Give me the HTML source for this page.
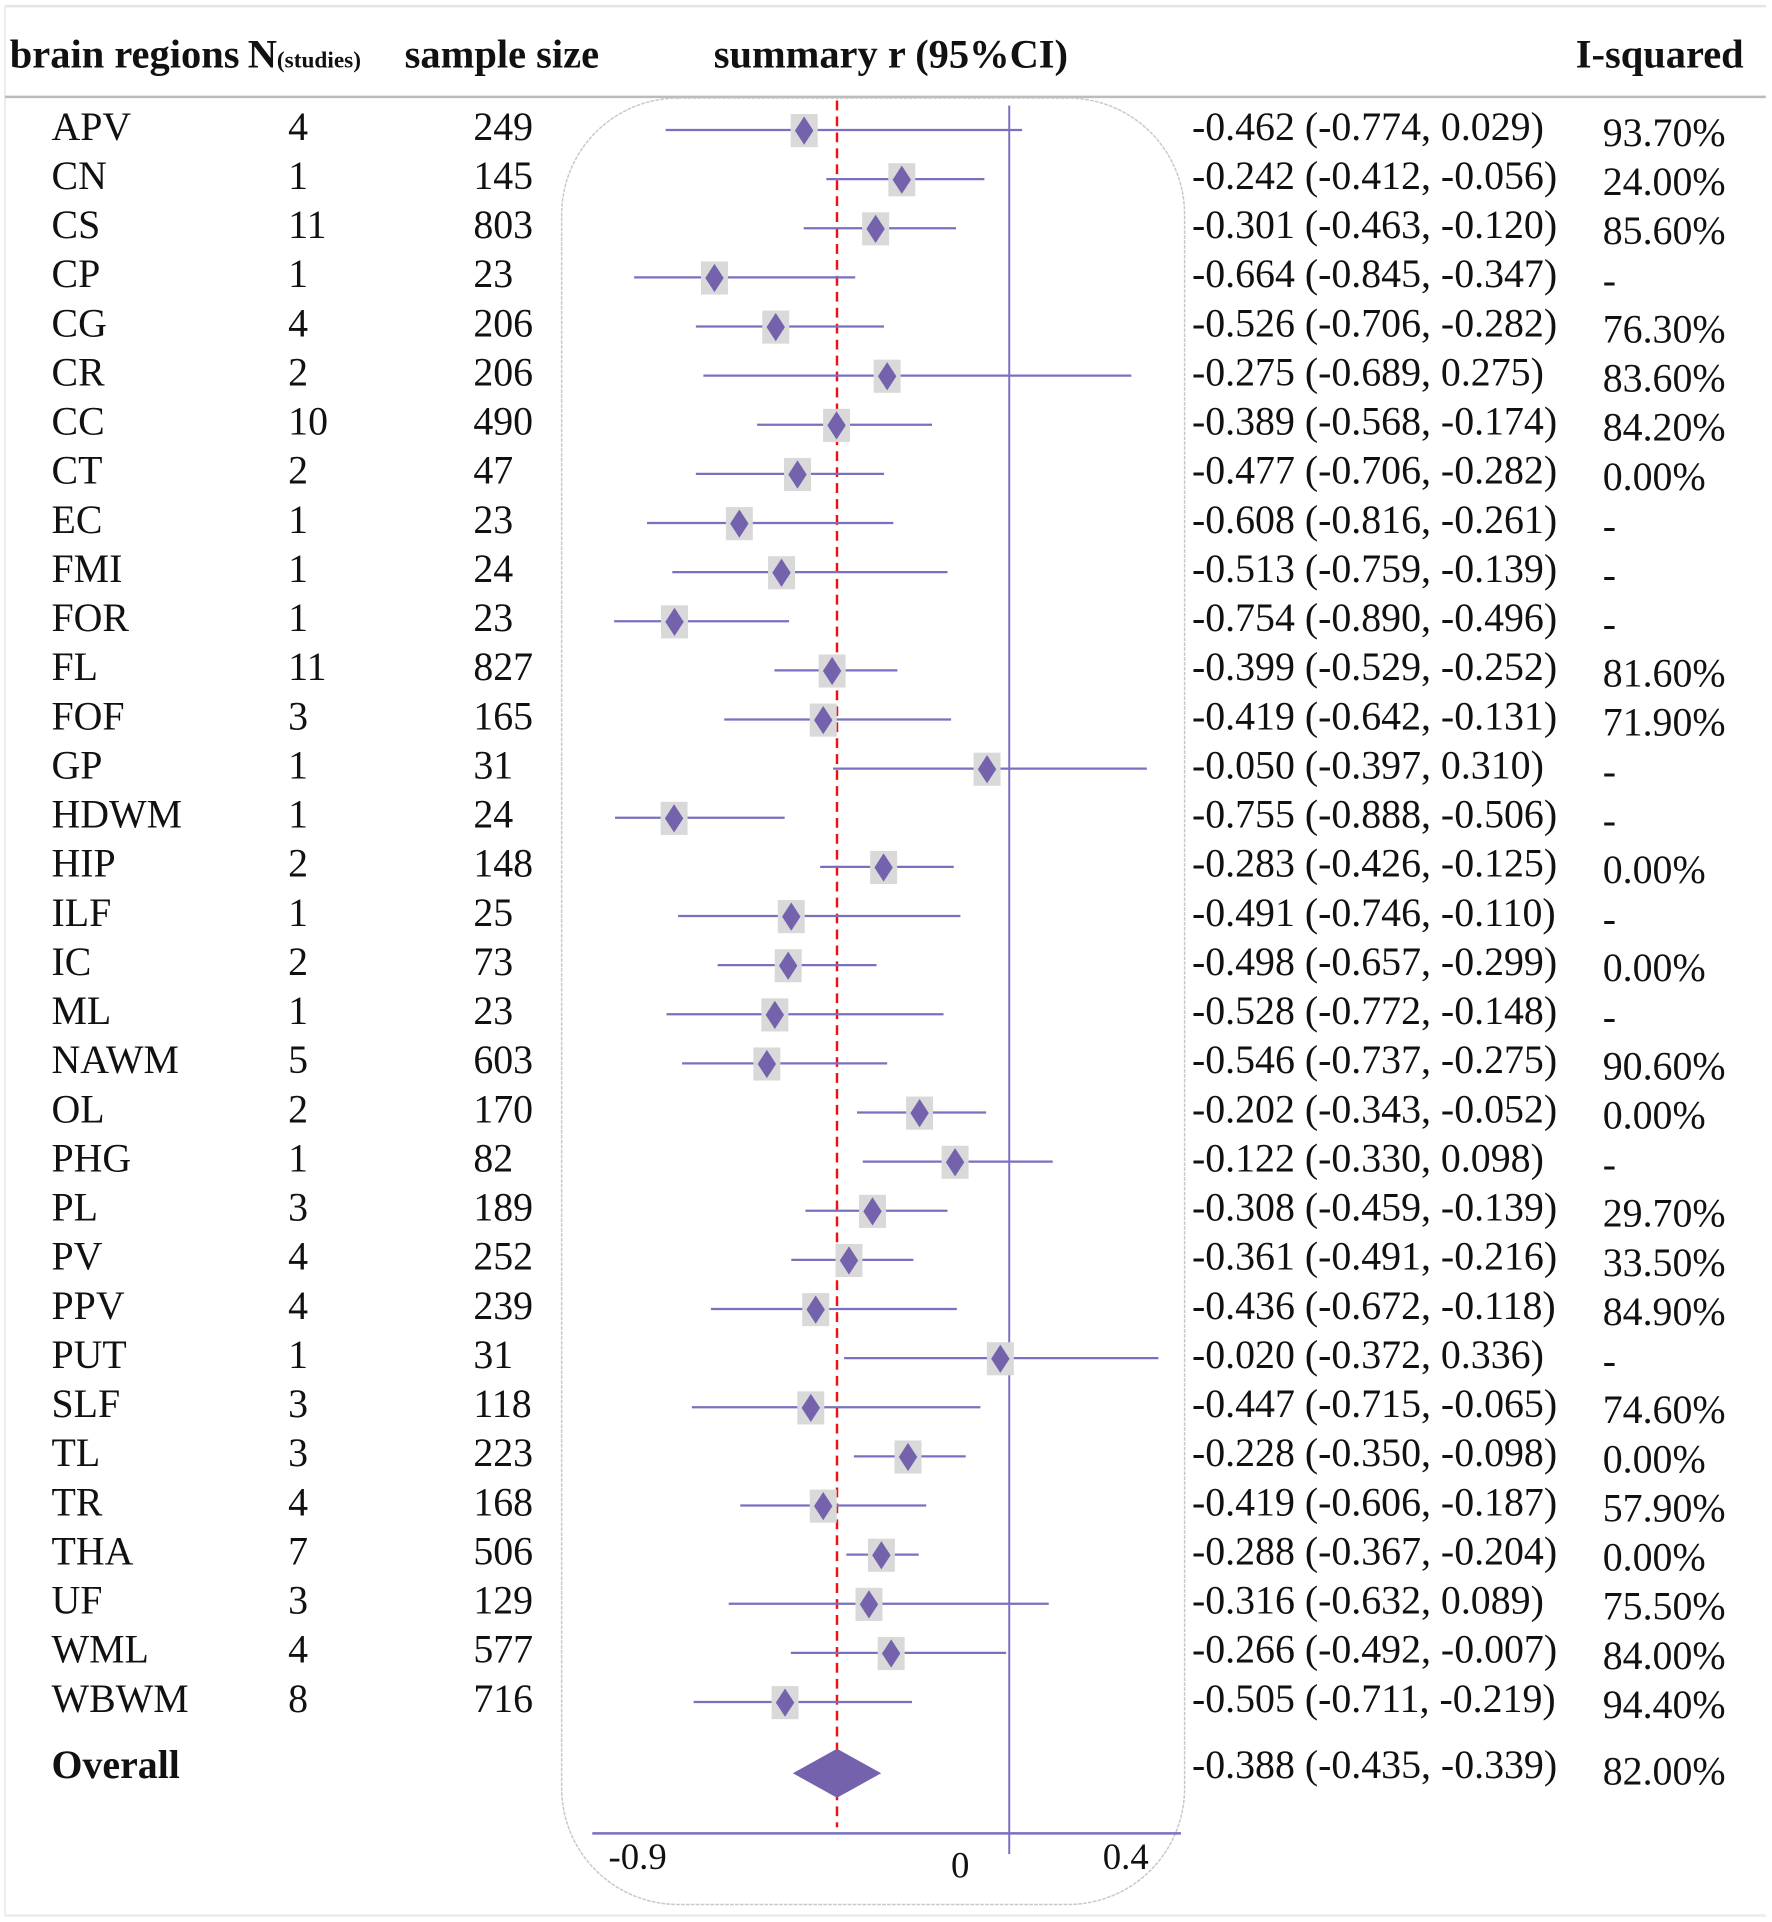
<!DOCTYPE html>
<html><head><meta charset="utf-8"><style>
html,body{margin:0;padding:0;background:#fff;}
svg{display:block;}
text{font-family:"Liberation Serif",serif;fill:#111;}
</style></head><body>
<svg id="chart" width="1772" height="1922" viewBox="0 0 1445 1567.3" preserveAspectRatio="none" xmlns="http://www.w3.org/2000/svg">
<rect x="0" y="0" width="1445" height="1567.3" fill="#fff"/>
<line x1="4" y1="5" x2="1440" y2="5" stroke="#e4e4e4" stroke-width="2"/>
<line x1="4" y1="1562" x2="1440" y2="1562" stroke="#ececec" stroke-width="2"/>
<line x1="4" y1="5" x2="4" y2="1562" stroke="#ececec" stroke-width="1.5"/>
<line x1="4" y1="79" x2="1440" y2="79" stroke="#bbb" stroke-width="2"/>
<g font-weight="bold" font-size="33">
<text x="8" y="55">brain regions</text>
<text x="202" y="55">N<tspan font-size="19">(studies)</tspan></text>
<text x="330" y="55">sample size</text>
<text x="582" y="55">summary r (95%CI)</text>
<text x="1285" y="55">I-squared</text>
</g>
<rect x="458" y="80" width="508" height="1473" rx="95" ry="95" fill="none" stroke="#c8c8c8" stroke-width="1.2" stroke-dasharray="3 1"/>
<g id="rows"></g>
<g id="plot"></g>
</svg>
<script>
const regions=["APV","CN","CS","CP","CG","CR","CC","CT","EC","FMI","FOR","FL","FOF","GP","HDWM","HIP","ILF","IC","ML","NAWM","OL","PHG","PL","PV","PPV","PUT","SLF","TL","TR","THA","UF","WML","WBWM"];
const nStudies=[4,1,11,1,4,2,10,2,1,1,1,11,3,1,1,2,1,2,1,5,2,1,3,4,4,1,3,3,4,7,3,4,8];
const sampleSizes=[249,145,803,23,206,206,490,47,23,24,23,827,165,31,24,148,25,73,23,603,170,82,189,252,239,31,118,223,168,506,129,577,716];
const rValues=[-0.462,-0.242,-0.301,-0.664,-0.526,-0.275,-0.389,-0.477,-0.608,-0.513,-0.754,-0.399,-0.419,-0.050,-0.755,-0.283,-0.491,-0.498,-0.528,-0.546,-0.202,-0.122,-0.308,-0.361,-0.436,-0.020,-0.447,-0.228,-0.419,-0.288,-0.316,-0.266,-0.505];
const ciLower=[-0.774,-0.412,-0.463,-0.845,-0.706,-0.689,-0.568,-0.706,-0.816,-0.759,-0.890,-0.529,-0.642,-0.397,-0.888,-0.426,-0.746,-0.657,-0.772,-0.737,-0.343,-0.330,-0.459,-0.491,-0.672,-0.372,-0.715,-0.350,-0.606,-0.367,-0.632,-0.492,-0.711];
const ciUpper=[0.029,-0.056,-0.120,-0.347,-0.282,0.275,-0.174,-0.282,-0.261,-0.139,-0.496,-0.252,-0.131,0.310,-0.506,-0.125,-0.110,-0.299,-0.148,-0.275,-0.052,0.098,-0.139,-0.216,-0.118,0.336,-0.065,-0.098,-0.187,-0.204,0.089,-0.007,-0.219];
const iSquared=["93.70%","24.00%","85.60%","-","76.30%","83.60%","84.20%","0.00%","-","-","-","81.60%","71.90%","-","-","0.00%","-","0.00%","-","90.60%","0.00%","-","29.70%","33.50%","84.90%","-","74.60%","0.00%","57.90%","0.00%","75.50%","84.00%","94.40%"];
const overall=[-0.388,-0.435,-0.339];
const overallI2="82.00%";
const tickLabels=["-0.9","0","0.4"];

const NS="http://www.w3.org/2000/svg";
const xS=v=>823+362*v;
const yRow=i=>104+40.06*i;
function mk(tag,attrs,parent){const e=document.createElementNS(NS,tag);for(const k in attrs)e.setAttribute(k,attrs[k]);parent.appendChild(e);return e;}
const rowsG=document.getElementById('rows'),plotG=document.getElementById('plot');
const f=v=>v.toFixed(3);
const FS=32.5;

let zl=mk('line',{x1:xS(0),y1:86,x2:xS(0),y2:1512,stroke:'#7a70c0','stroke-width':1.6},plotG);


let ax=mk('line',{x1:483,y1:1495,x2:963,y2:1495,stroke:'#7a70c0','stroke-width':2},plotG);


const tickX=[520,783,918];
tickLabels.forEach((t,i)=>{
  const tx=mk('text',{x:tickX[i],y:i==1?1531:1524,'font-size':30,'text-anchor':'middle'},plotG);tx.textContent=t;
  
  
});
let rl=mk('line',{x1:xS(overall[0]),y1:82,x2:xS(overall[0]),y2:1490,stroke:'#f01010','stroke-width':2,'stroke-dasharray':'8 5'},plotG);



regions.forEach((r,i)=>{
  const y=yRow(i);
  const g=mk('g',{},rowsG);
  
  
  const vals=[[42,r],[235,nStudies[i]],[386,sampleSizes[i]],[972,f(rValues[i])+' ('+f(ciLower[i])+', '+f(ciUpper[i])+')']];
  vals.forEach(([x,t])=>{const e=mk('text',{x:x,y:y+10,'font-size':FS},g);e.textContent=t;});
  const e=mk('text',{x:1307,y:y+15,'font-size':FS},g);e.textContent=iSquared[i];
  const ci=mk('line',{x1:xS(ciLower[i]),y1:y+2,x2:xS(ciUpper[i]),y2:y+2,stroke:'#7a70c0','stroke-width':1.8},plotG);
  
  
  const cx=xS(rValues[i]);
  const sq=mk('rect',{x:cx-11,y:y-11,width:22,height:27,fill:'#d9d9d9'},plotG);
  
  
  const d=mk('polygon',{points:`${cx},${y-9} ${cx+7.5},${y+2.5} ${cx},${y+14} ${cx-7.5},${y+2.5}`,fill:'#7462ad'},plotG);
  
  
});
const oy=1440;
const og=mk('g',{},rowsG);


let t1=mk('text',{x:42,y:oy+10,'font-size':FS,'font-weight':'bold'},og);t1.textContent='Overall';
let t2=mk('text',{x:972,y:oy+10,'font-size':FS},og);t2.textContent=f(overall[0])+' ('+f(overall[1])+', '+f(overall[2])+')';
let t3=mk('text',{x:1307,y:oy+15,'font-size':FS},og);t3.textContent=overallI2;
const ox=xS(overall[0]);
const od=mk('polygon',{points:`${ox},${oy-14} ${ox+36},${oy+6} ${ox},${oy+26} ${ox-36},${oy+6}`,fill:'#7462ad'},plotG);


</script>
</body></html>
